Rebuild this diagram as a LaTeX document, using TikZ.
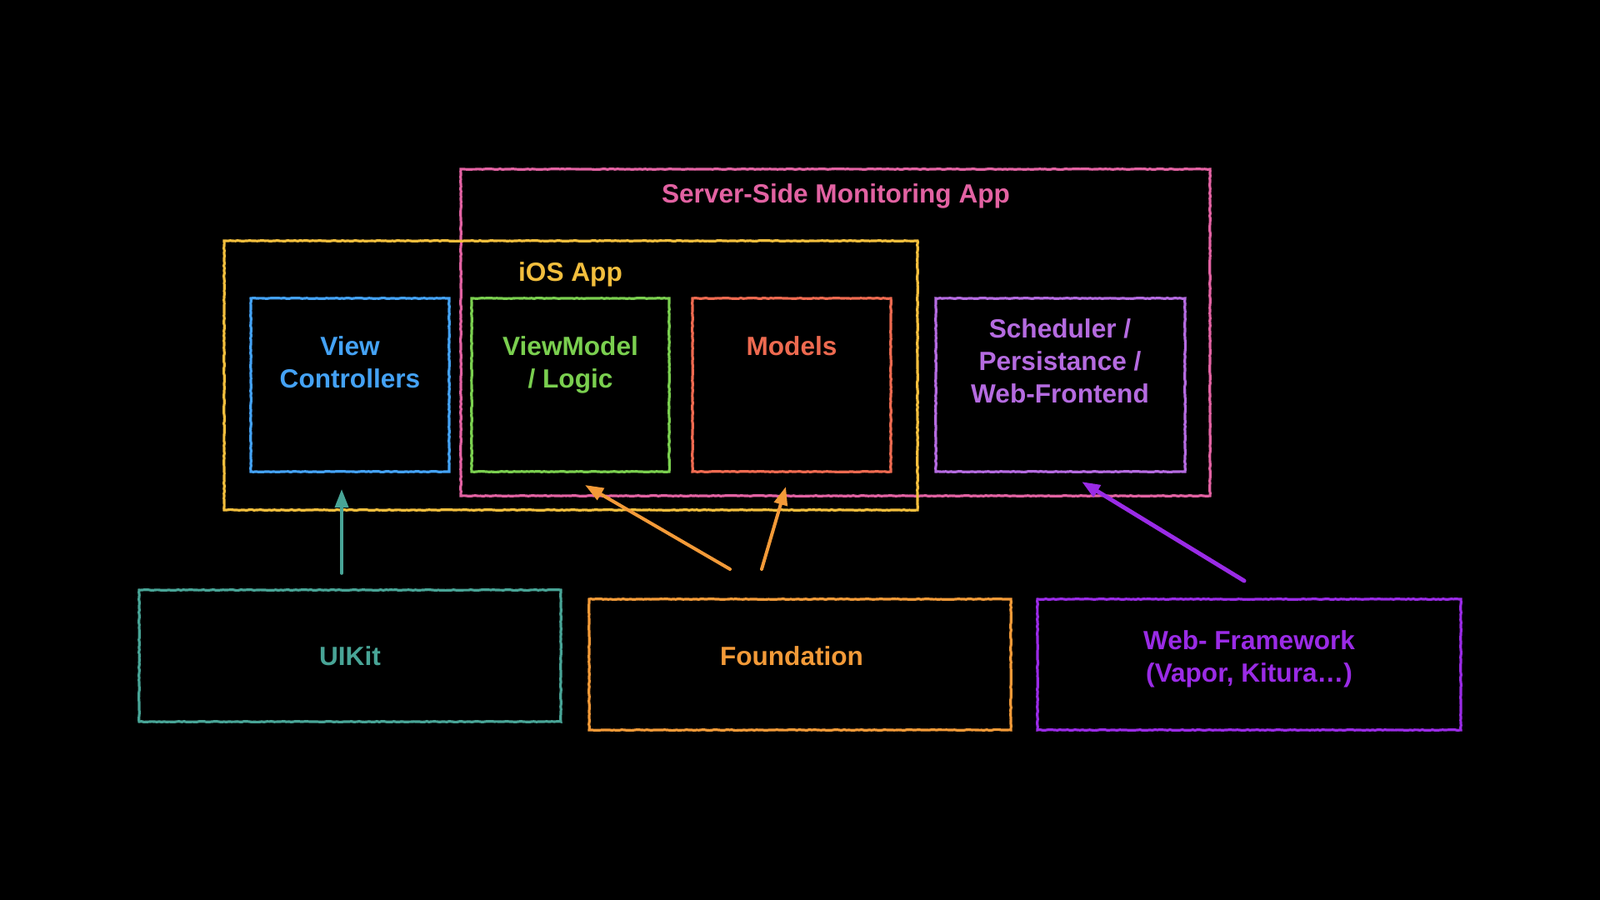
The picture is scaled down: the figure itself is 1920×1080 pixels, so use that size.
\documentclass[tikz,border=0pt]{standalone}
\usepackage{fontspec}
\setmainfont{Liberation Sans}
\usetikzlibrary{arrows.meta,decorations.pathmorphing}
\begin{document}
\begin{tikzpicture}[x=0.5pt,y=-0.5pt,line cap=round]
  % Colors
  \definecolor{servercolor}{HTML}{E262A2}
  \definecolor{ioscolor}{HTML}{F2BE3D}
  \definecolor{vccolor}{HTML}{44A2F5}
  \definecolor{vmcolor}{HTML}{7ACF4F}
  \definecolor{modelcolor}{HTML}{EE6A50}
  \definecolor{schedcolor}{HTML}{B56BE0}
  \definecolor{uikitcolor}{HTML}{48A496}
  \definecolor{foundcolor}{HTML}{F39A38}
  \definecolor{webcolor}{HTML}{9A2BE6}

  % Styles
  \tikzstyle{layer box}=[draw,line width=1.6pt,inner sep=0pt,decorate,
    decoration={random steps,segment length=1.5pt,amplitude=0.2pt}]
  \tikzstyle{layer text}=[font=\fontsize{15.8}{19.5}\selectfont\bfseries,
    align=center,anchor=base,inner sep=0pt]
  \tikzstyle{dependency}=[-{Triangle[length=11pt,width=8pt]}]

  % Background
  \fill[black] (0,0) rectangle (1920,1080);
  \useasboundingbox (0,0) rectangle (1920,1080);

  % Outer boxes
  \node[layer box,servercolor,minimum width=449.5pt,minimum height=196pt]
    (server) at (1002.5,399) {};
  \node[layer box,ioscolor,minimum width=416pt,minimum height=161.5pt]
    (ios) at (685,450.5) {};

  % Inner boxes
  \node[layer box,vccolor,minimum width=119pt,minimum height=104pt]
    (vc) at (420,462) {};
  \node[layer box,vmcolor,minimum width=118.5pt,minimum height=104pt]
    (vm) at (684.5,462) {};
  \node[layer box,modelcolor,minimum width=119pt,minimum height=104pt]
    (models) at (950,462) {};
  \node[layer box,schedcolor,minimum width=149.5pt,minimum height=104pt]
    (sched) at (1272.5,462) {};

  % Frameworks
  \node[layer box,uikitcolor,minimum width=253pt,minimum height=79pt]
    (uikit) at (420,787) {};
  \node[layer box,foundcolor,minimum width=253pt,minimum height=78.5pt]
    (found) at (960,797.5) {};
  \node[layer box,webcolor,minimum width=254pt,minimum height=78.5pt]
    (web) at (1499,797.5) {};

  % Labels (base = last line)
  \node[layer text,servercolor] (server label) at (1003,244) {Server-Side Monitoring App};
  \node[layer text,ioscolor] (ios label) at (684.5,337) {iOS App};
  \node[layer text,vccolor] (vc label) at (420,465) {View\\Controllers};
  \node[layer text,vmcolor] (vm label) at (684.5,465) {ViewModel\\/ Logic};
  \node[layer text,modelcolor] (models label) at (950,426) {Models};
  \node[layer text,schedcolor] (sched label) at (1272,483)
    {Scheduler /\\Persistance /\\Web-Frontend};
  \node[layer text,uikitcolor] (uikit label) at (420,798) {UIKit};
  \node[layer text,foundcolor] (found label) at (950,798) {Foundation};
  \node[layer text,webcolor] (web label) at (1499,818)
    {Web- Framework\\(Vapor, Kitura…)};

  % Arrow ends
  \coordinate (uikit out) at (410,688);
  \coordinate (vc in) at (410,587);
  \coordinate (found out a) at (876,683);
  \coordinate (vm in) at (702,582);
  \coordinate (found out b) at (914,683);
  \coordinate (models in) at (943,584);
  \coordinate (web out) at (1493,697);
  \coordinate (sched in) at (1298,578);

  % Dependencies
  \draw[dependency,uikitcolor,line width=1.8pt] (uikit out) -- (vc in);
  \draw[dependency,foundcolor,line width=2pt] (found out a) -- (vm in);
  \draw[dependency,foundcolor,line width=2pt] (found out b) -- (models in);
  \draw[dependency,webcolor,line width=2.5pt] (web out) -- (sched in);
\end{tikzpicture}
\end{document}
